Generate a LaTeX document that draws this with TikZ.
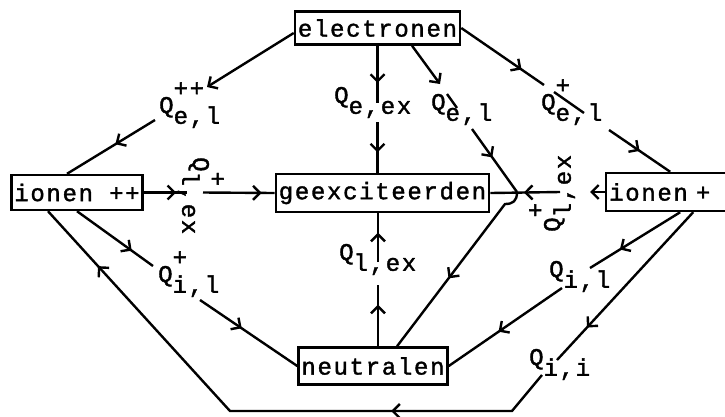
\documentclass[tikz,border=0pt]{standalone}
\usepackage{fontspec}
\setmonofont{Liberation Mono}[LetterSpace=7, FakeBold=1.5]
\usetikzlibrary{arrows.meta, decorations.markings}

% rate label: Q with raised and lowered parts
\newcommand{\qrate}[2]{Q\rlap{\raisebox{.7em}{#1}}\raisebox{-.45em}{#2}}

\begin{document}
\begin{tikzpicture}[x=1pt, y=-1pt, line width=2.4pt,
    box/.style={draw, line width=2.4pt, font=\fontsize{24}{24}\selectfont\ttfamily,
        inner xsep=3pt, inner ysep=0pt, minimum height=35pt},
    rate/.style={font=\fontsize{24}{24}\selectfont\ttfamily, inner sep=0pt, anchor=base west},
    flowtip/.tip={Straight Barb[length=7pt, width=14pt]},
    flow/.style={postaction={decorate, decoration={markings,
        mark=at position #1 with {\arrow{flowtip}}}}}]

    % Fix the picture size
    \useasboundingbox (0,0) rectangle (725,416);
    \clip (0,0) rectangle (725,416);

    % Draw boxes
    \node[box, minimum height=33pt] (electronen) at (377.5,28) {electronen};
    \node[box] (ionenpp) at (77,192.5) {ionen ++};
    \node[box, minimum height=38pt] (geexc) at (382.5,193) {geexciteerden};
    \node[box, minimum height=37pt] (neutralen) at (373,366) {neutralen};
    \node[box, anchor=west, text width=130pt, minimum height=38pt] (ionenp) at (605,192) {ionen +};

    % Rate labels
    \node[rate] (qeipp) at (158,113) {\qrate{++}{e,l}};
    \node[rate] (qeex) at (333,103) {\qrate{}{e,ex}};
    \node[rate] (qel) at (430,110) {\qrate{}{e,l}};
    \node[rate] (qeip) at (540,110) {\qrate{+}{e,l}};
    \node[rate] (qlex) at (338,260) {\qrate{}{l,ex}};
    \node[rate] (qipl) at (157,282) {\qrate{+}{i,l}};
    \node[rate] (qil) at (548,277) {\qrate{}{i,l}};
    \node[rate] (qii) at (528,365) {\qrate{}{i,i}};
    \node[rate, rotate=-90] (qlexpp) at (193,156) {\qrate{+}{l,ex}};
    \node[rate, rotate=90] (qlexp) at (560,233) {\qrate{+}{l,ex}};

    % Break points where lines pass the labels
    \coordinate (a1) at (207,87);
    \coordinate (a2) at (155,120);
    \coordinate (b1) at (377.5,103);
    \coordinate (b2) at (377.5,122);
    \coordinate (c1) at (440,84);
    \coordinate (c2) at (447,94);
    \coordinate (c3) at (457,108);
    \coordinate (c4) at (472,129);
    \coordinate (J) at (517,192);
    \coordinate (j1) at (544,85);
    \coordinate (j2) at (554,92);
    \coordinate (j3) at (584,113);
    \coordinate (j4) at (609,130);
    \coordinate (d1) at (590,192);
    \coordinate (d2) at (560,192);
    \coordinate (e1) at (378,285);
    \coordinate (e2) at (378,262);
    \coordinate (f1) at (187,192.5);
    \coordinate (f2) at (203,192.5);
    \coordinate (g1) at (153,266);
    \coordinate (g2) at (200,300);
    \coordinate (h1) at (590,268);
    \coordinate (h2) at (562,288);
    \coordinate (i1) at (557,360);
    \coordinate (i2) at (542,375);
    \coordinate (i3) at (512,411);
    \coordinate (i4) at (230,411);

    % From electronen
    \draw[-flowtip] ([yshift=-5pt]electronen.west) -- (a1);
    \draw[flow=0.45] (a2) -- ([xshift=-10pt]ionenpp.north);
    \draw[flow=0.65] (electronen.south) -- (b1);
    \draw[flow=0.6] (b2) -- (b2 |- geexc.north);
    \draw[-flowtip] ([xshift=34.5pt]electronen.south) -- (c1);
    \draw (c2) -- (c3);
    \draw[flow=0.45] (c4) -- (J);
    \draw[flow=0.73] (electronen.east) -- (j1);
    \draw (j2) -- (j3);
    \draw[flow=0.5] (j4) -- ([xshift=-4pt]ionenp.north);

    % Into geexciteerden
    \draw[flow=0.75] (ionenpp.east) -- (f1);
    \draw[flow=0.82] (f2) -- (geexc.west);
    \draw[-flowtip] (ionenp.west) -- (d1);
    \draw[flow=0.52] (d2) -- (geexc.east);
    \draw[flow=0.68] ([xshift=5pt]neutralen.north) -- (e1);
    \draw[flow=0.6] (e2) -- (e2 |- geexc.south);

    % Into neutralen
    \draw[flow=0.57] (J) .. controls (517,201) and (513,204) .. (505,204)
        -- ([xshift=24pt]neutralen.north);
    \draw[flow=0.72] (ionenpp.south) -- (g1);
    \draw[flow=0.43] (g2) -- (neutralen.west);
    \draw[flow=0.67] ([xshift=6pt]ionenp.south) -- (h1);
    \draw[flow=0.56] (h2) -- (neutralen.east);

    % From ionen + back to ionen ++
    \draw[flow=0.78] ([xshift=19pt]ionenp.south) -- (i1);
    \draw[flow=0.28, flow=0.876] (i2) -- (i3) -- (i4) -- ([xshift=-29pt]ionenpp.south);

\end{tikzpicture}
\end{document}
